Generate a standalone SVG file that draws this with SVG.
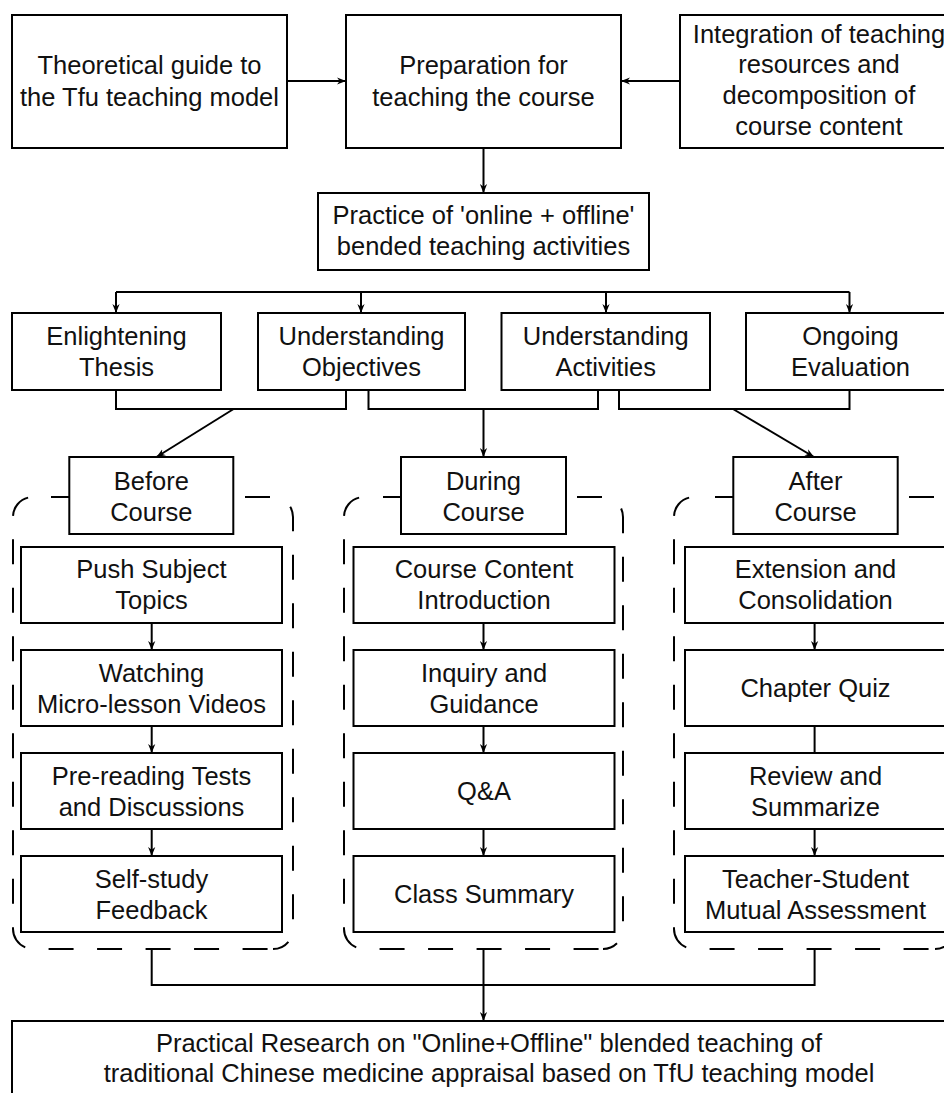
<svg xmlns="http://www.w3.org/2000/svg" width="944" height="1093" viewBox="0 0 944 1093">
<style>
.box{fill:#fff;stroke:#000;stroke-width:2}
.grp{fill:none;stroke:#000;stroke-width:2;stroke-dasharray:25 23.5}
.grpL{stroke-dashoffset:43.5}
.ln{fill:none;stroke:#000;stroke-width:2}
text{font-family:"Liberation Sans",Arial,sans-serif;font-size:25.5px;fill:#111;text-anchor:middle}
</style>
<defs>
<marker id="ah" viewBox="0 0 10 10" refX="10" refY="5" markerWidth="9" markerHeight="9" markerUnits="userSpaceOnUse" orient="auto">
<path d="M0,1 L10,5 L0,9 L3,5 z" fill="#000"/>
</marker>
</defs>
<rect width="944" height="1093" fill="#fff"/>

<g id="connectors">
<line class="ln" x1="287" y1="81" x2="346" y2="81" marker-end="url(#ah)"/>
<line class="ln" x1="680" y1="81" x2="621" y2="81" marker-end="url(#ah)"/>
<line class="ln" x1="483.5" y1="148" x2="483.5" y2="193" marker-end="url(#ah)"/>
<line class="ln" x1="116" y1="292" x2="849.5" y2="292"/>
<line class="ln" x1="116" y1="292" x2="116" y2="313" marker-end="url(#ah)"/>
<line class="ln" x1="361" y1="292" x2="361" y2="313" marker-end="url(#ah)"/>
<line class="ln" x1="606" y1="292" x2="606" y2="313" marker-end="url(#ah)"/>
<line class="ln" x1="849.5" y1="292" x2="849.5" y2="313" marker-end="url(#ah)"/>
<path class="ln" d="M116,390 V409 H346 V390"/>
<path class="ln" d="M368.5,390 V409 H598 V390"/>
<path class="ln" d="M619,390 V409 H849.5 V390"/>
<line class="ln" x1="233.6" y1="409" x2="156.5" y2="457" marker-end="url(#ah)"/>
<line class="ln" x1="483.5" y1="409" x2="483.5" y2="457" marker-end="url(#ah)"/>
<line class="ln" x1="733" y1="409" x2="814" y2="457" marker-end="url(#ah)"/>
<line class="ln" x1="151.7" y1="623" x2="151.7" y2="650" marker-end="url(#ah)"/>
<line class="ln" x1="151.7" y1="726" x2="151.7" y2="753" marker-end="url(#ah)"/>
<line class="ln" x1="151.7" y1="829" x2="151.7" y2="856" marker-end="url(#ah)"/>
<line class="ln" x1="483.5" y1="623" x2="483.5" y2="650" marker-end="url(#ah)"/>
<line class="ln" x1="483.5" y1="726" x2="483.5" y2="753" marker-end="url(#ah)"/>
<line class="ln" x1="483.5" y1="829" x2="483.5" y2="856" marker-end="url(#ah)"/>
<line class="ln" x1="814.6" y1="623" x2="814.6" y2="650" marker-end="url(#ah)"/>
<line class="ln" x1="814.6" y1="726" x2="814.6" y2="753"/>
<line class="ln" x1="814.6" y1="829" x2="814.6" y2="856" marker-end="url(#ah)"/>
<path class="ln" d="M151.7,949 V985 H814.6 V949"/>
<line class="ln" x1="483.5" y1="949" x2="483.5" y2="1021" marker-end="url(#ah)"/>
</g>

<g id="group-before">
<path class="grp" d="M51,497 H273 A20,20 0 0 1 293,517 V929 A20,20 0 0 1 273,949"/>
<path class="grp grpL" d="M33,497 A20,20 0 0 0 13,517 V929 A20,20 0 0 0 33,949 H273"/>
</g>
<g id="group-during">
<path class="grp" d="M383,497 H603 A20,20 0 0 1 623,517 V929 A20,20 0 0 1 603,949"/>
<path class="grp grpL" d="M364,497 A20,20 0 0 0 344,517 V929 A20,20 0 0 0 364,949 H603"/>
</g>
<g id="group-after">
<path class="grp" d="M715,497 H935 A20,20 0 0 1 955,517 V929 A20,20 0 0 1 935,949"/>
<path class="grp grpL" d="M694,497 A20,20 0 0 0 674,517 V929 A20,20 0 0 0 694,949 H935"/>
</g>

<g id="n-theory">
<rect class="box" x="12" y="15" width="275" height="133"/>
<text x="149.5" y="74">Theoretical guide to</text>
<text x="149.5" y="105.5">the Tfu teaching model</text>
</g>
<g id="n-prep">
<rect class="box" x="346" y="15" width="275" height="133"/>
<text x="483.5" y="74">Preparation for</text>
<text x="483.5" y="105.5">teaching the course</text>
</g>
<g id="n-integration">
<rect class="box" x="680" y="15" width="278" height="133"/>
<text x="819" y="42.5">Integration of teaching</text>
<text x="819" y="73.3">resources and</text>
<text x="819" y="104.1">decomposition of</text>
<text x="819" y="134.9">course content</text>
</g>
<g id="n-practice">
<rect class="box" x="318" y="193" width="331" height="77"/>
<text x="483.5" y="224">Practice of 'online + offline'</text>
<text x="483.5" y="255">bended teaching activities</text>
</g>

<g id="n-thesis">
<rect class="box" x="12" y="313" width="209" height="77"/>
<text x="116.5" y="345">Enlightening</text>
<text x="116.5" y="376">Thesis</text>
</g>
<g id="n-objectives">
<rect class="box" x="258" y="313" width="207" height="77"/>
<text x="361.5" y="345">Understanding</text>
<text x="361.5" y="376">Objectives</text>
</g>
<g id="n-activities">
<rect class="box" x="501.5" y="313" width="208.5" height="77"/>
<text x="605.75" y="345">Understanding</text>
<text x="605.75" y="376">Activities</text>
</g>
<g id="n-evaluation">
<rect class="box" x="746" y="313" width="209" height="77"/>
<text x="850.5" y="345">Ongoing</text>
<text x="850.5" y="376">Evaluation</text>
</g>

<g id="n-before">
<rect class="box" x="69.3" y="457" width="164" height="77"/>
<text x="151.3" y="489.5">Before</text>
<text x="151.3" y="520.5">Course</text>
</g>
<g id="n-during">
<rect class="box" x="401" y="457" width="165" height="77"/>
<text x="483.5" y="489.5">During</text>
<text x="483.5" y="520.5">Course</text>
</g>
<g id="n-after">
<rect class="box" x="733.3" y="457" width="164.4" height="77"/>
<text x="815.5" y="489.5">After</text>
<text x="815.5" y="520.5">Course</text>
</g>

<g id="n-push">
<rect class="box" x="21" y="547" width="261" height="76"/>
<text x="151.5" y="578">Push Subject</text>
<text x="151.5" y="609">Topics</text>
</g>
<g id="n-watching">
<rect class="box" x="21" y="650" width="261" height="76"/>
<text x="151.5" y="681.5">Watching</text>
<text x="151.5" y="712.5">Micro-lesson Videos</text>
</g>
<g id="n-prereading">
<rect class="box" x="21" y="753" width="261" height="76"/>
<text x="151.5" y="784.5">Pre-reading Tests</text>
<text x="151.5" y="815.5">and Discussions</text>
</g>
<g id="n-selfstudy">
<rect class="box" x="21" y="856" width="261" height="76"/>
<text x="151.5" y="887.5">Self-study</text>
<text x="151.5" y="918.5">Feedback</text>
</g>

<g id="n-content">
<rect class="box" x="353.5" y="547" width="261" height="76"/>
<text x="484" y="578">Course Content</text>
<text x="484" y="609">Introduction</text>
</g>
<g id="n-inquiry">
<rect class="box" x="353.5" y="650" width="261" height="76"/>
<text x="484" y="681.5">Inquiry and</text>
<text x="484" y="712.5">Guidance</text>
</g>
<g id="n-qa">
<rect class="box" x="353.5" y="753" width="261" height="76"/>
<text x="484" y="800">Q&amp;A</text>
</g>
<g id="n-summary">
<rect class="box" x="353.5" y="856" width="261" height="76"/>
<text x="484" y="903">Class Summary</text>
</g>

<g id="n-extension">
<rect class="box" x="685" y="547" width="261" height="76"/>
<text x="815.5" y="578">Extension and</text>
<text x="815.5" y="609">Consolidation</text>
</g>
<g id="n-quiz">
<rect class="box" x="685" y="650" width="261" height="76"/>
<text x="815.5" y="697">Chapter Quiz</text>
</g>
<g id="n-review">
<rect class="box" x="685" y="753" width="261" height="76"/>
<text x="815.5" y="784.5">Review and</text>
<text x="815.5" y="815.5">Summarize</text>
</g>
<g id="n-mutual">
<rect class="box" x="685" y="856" width="261" height="76"/>
<text x="815.5" y="887.5">Teacher-Student</text>
<text x="815.5" y="918.5">Mutual Assessment</text>
</g>

<g id="n-final">
<rect class="box" x="12" y="1021" width="954" height="100"/>
<text x="489" y="1052">Practical Research on "Online+Offline" blended teaching of</text>
<text x="489" y="1082">traditional Chinese medicine appraisal based on TfU teaching model</text>
</g>
</svg>
